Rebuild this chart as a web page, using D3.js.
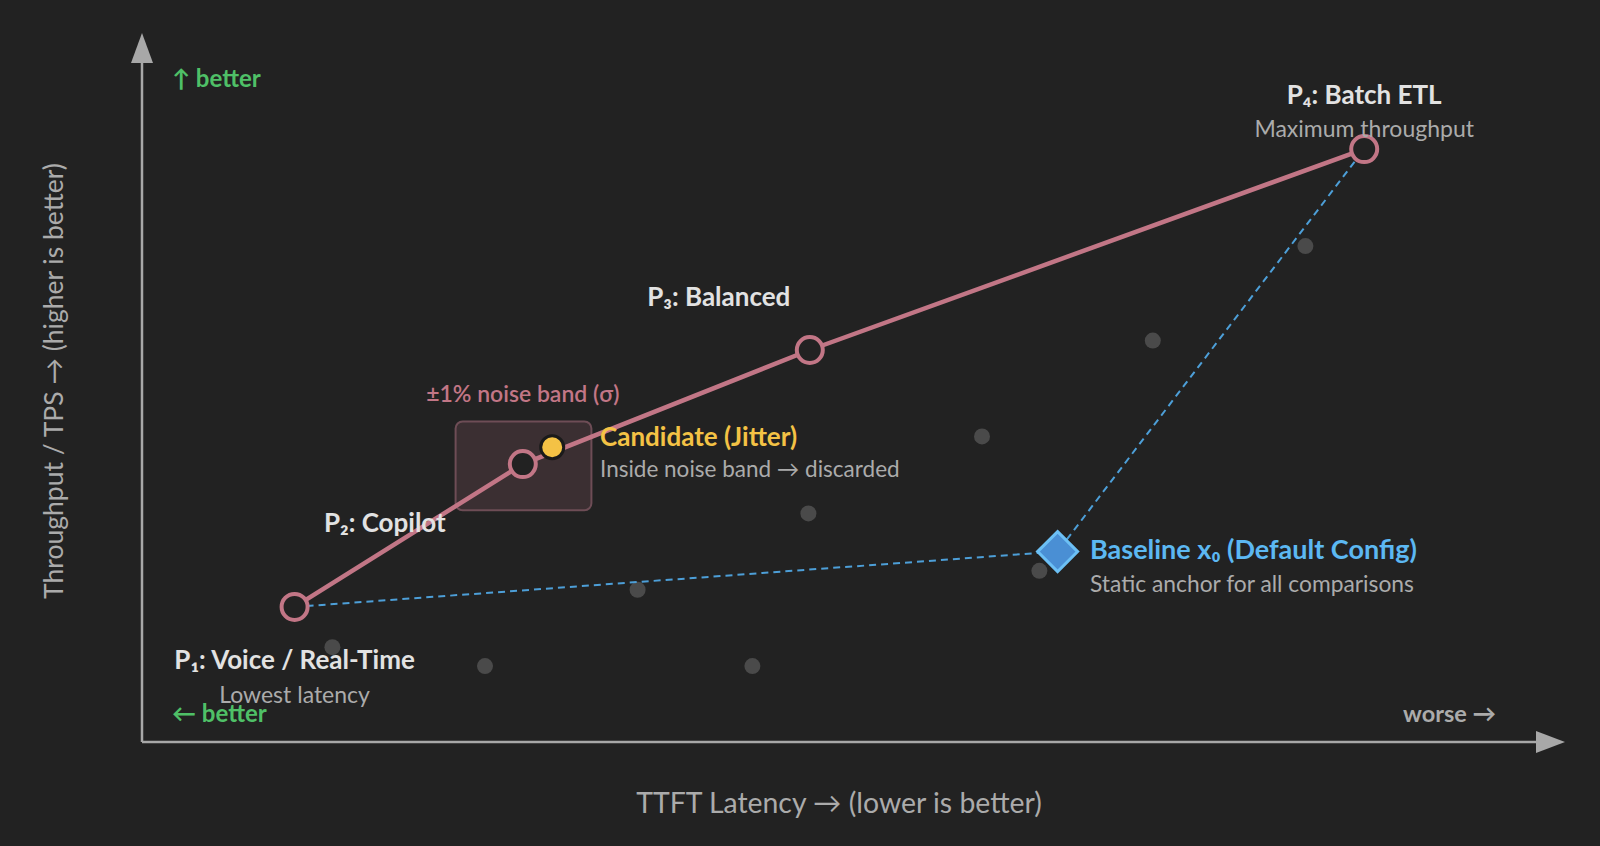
<!DOCTYPE html>
<html>
<head>
<meta charset="utf-8">
<script src="https://cdn.jsdelivr.net/npm/d3@7"></script>
<style>
  html, body { margin: 0; padding: 0; background: #222222; }
  svg { display: block; font-family: Lato, "Noto Sans", sans-serif; }
</style>
</head>
<body>
<svg id="chart" width="1600" height="846"></svg>
<script>
// ---- data (latency units vs throughput units, arbitrary 0-100 scale) ----
const paretoNames = ["P₁: Voice / Real-Time", "P₂: Copilot", "P₃: Balanced", "P₄: Batch ETL"];
const paretoSubs  = ["Lowest latency", "", "", "Maximum throughput"];
const paretoX = [10.9, 27.2, 47.7, 87.3];
const paretoY = [19.3, 39.7, 56.0, 84.7];

const candidateX = 29.3;
const candidateY = 42.1;
const candidateLabel = "Candidate (Jitter)";
const candidateSub = "Inside noise band → discarded";

const baselineX = 65.4;
const baselineY = 27.2;
const baselineLabel = "Baseline x₀ (Default Config)";
const baselineSub = "Static anchor for all comparisons";

const noiseBandX = [22.4, 32.1];
const noiseBandY = [33.1, 45.8];
const noiseLabel = "±1% noise band (σ)";

const cloudX = [13.6, 24.5, 35.4, 43.6, 47.6, 60.0, 64.1, 72.2, 83.1];
const cloudY = [13.55, 10.85, 21.75, 10.85, 32.65, 43.65, 24.45, 57.35, 70.85];

const xTitle = "TTFT Latency → (lower is better)";
const yTitle = "Throughput / TPS → (higher is better)";
const upBetter = "↑ better";
const leftBetter = "← better";
const worseLabel = "worse →";

// ---- layout ----
const svg = d3.select("#chart");
const W = 1600, H = 846;
const ox = 142, oy = 742;
const x = d3.scaleLinear().domain([0, 100]).range([ox, ox + 1400]);
const y = d3.scaleLinear().domain([0, 100]).range([oy, oy - 700]);

const C = {
  bg: "#222222", axis: "#a8a8a8", pink: "#c27686", blue: "#4d9fd8",
  blueText: "#5cb8f2", yellow: "#f4c245", green: "#4fc067", grey: "#4a4a4a",
  label: "#e2e2e2", sub: "#ababab"
};

svg.append("rect").attr("width", W).attr("height", H).attr("fill", C.bg);

// axes
const g = svg.append("g");
g.append("line").attr("x1", ox).attr("y1", oy).attr("x2", 1540).attr("y2", oy)
  .attr("stroke", C.axis).attr("stroke-width", 2.5);
g.append("line").attr("x1", ox).attr("y1", oy).attr("x2", ox).attr("y2", 60)
  .attr("stroke", C.axis).attr("stroke-width", 2.5);
g.append("path").attr("d", `M${1565},${oy} L${1536},${oy - 11} L${1536},${oy + 11} Z`).attr("fill", C.axis);
g.append("path").attr("d", `M${ox},33 L${ox - 11},63 L${ox + 11},63 Z`).attr("fill", C.axis);

// axis titles
svg.append("text").attr("x", 839).attr("y", 813).attr("text-anchor", "middle")
  .attr("fill", C.sub).attr("font-size", 28.4).text(xTitle);
svg.append("text").attr("transform", `translate(63,381) rotate(-90)`).attr("text-anchor", "middle")
  .attr("fill", C.sub).attr("font-size", 26.5).text(yTitle);

// corner hints
svg.append("text").attr("x", 172).attr("y", 87).attr("fill", C.green)
  .attr("font-size", 24).attr("font-weight", 700).text(upBetter);
svg.append("text").attr("x", 172).attr("y", 722).attr("fill", C.green)
  .attr("font-size", 24).attr("font-weight", 700).text(leftBetter);
svg.append("text").attr("x", 1496).attr("y", 722).attr("text-anchor", "end").attr("fill", C.sub)
  .attr("font-size", 23.5).attr("font-weight", 700).text(worseLabel);

// background cloud
svg.append("g").selectAll("circle").data(cloudX).join("circle")
  .attr("cx", d => x(d)).attr("cy", (d, i) => y(cloudY[i])).attr("r", 8).attr("fill", C.grey);

// noise band
svg.append("rect")
  .attr("x", x(noiseBandX[0])).attr("y", y(noiseBandY[1]))
  .attr("width", x(noiseBandX[1]) - x(noiseBandX[0])).attr("height", y(noiseBandY[0]) - y(noiseBandY[1]))
  .attr("rx", 7).attr("fill", "#3b2f32").attr("stroke", "#6e4d56").attr("stroke-width", 2);
svg.append("text").attr("x", x(paretoX[1])).attr("y", 402).attr("text-anchor", "middle")
  .attr("fill", C.pink).attr("font-size", 23).attr("font-weight", 600).text(noiseLabel);

// baseline dashed connectors
const dash = d3.line();
svg.append("path").attr("d", dash([[x(paretoX[0]), y(paretoY[0])], [x(baselineX), y(baselineY)], [x(paretoX[3]), y(paretoY[3])]]))
  .attr("fill", "none").attr("stroke", C.blue).attr("stroke-width", 2).attr("stroke-dasharray", "7,5");

// pareto frontier
const line = d3.line().x(d => x(d[0])).y(d => y(d[1]));
svg.append("path").attr("d", line(paretoX.map((v, i) => [v, paretoY[i]])))
  .attr("fill", "none").attr("stroke", C.pink).attr("stroke-width", 4.5);
svg.append("g").selectAll("circle").data(paretoX).join("circle")
  .attr("cx", d => x(d)).attr("cy", (d, i) => y(paretoY[i])).attr("r", 13)
  .attr("fill", C.bg).attr("stroke", C.pink).attr("stroke-width", 4);

// candidate
svg.append("circle").attr("cx", x(candidateX)).attr("cy", y(candidateY)).attr("r", 11.5)
  .attr("fill", C.yellow).attr("stroke", "#1a1a1a").attr("stroke-width", 3);
svg.append("text").attr("x", 600).attr("y", 446).attr("fill", C.yellow)
  .attr("font-size", 26).attr("font-weight", 700).text(candidateLabel);
svg.append("text").attr("x", 600).attr("y", 477).attr("fill", C.sub)
  .attr("font-size", 22.5).text(candidateSub);

// baseline diamond
const bx = x(baselineX), by = y(baselineY), d0 = 20;
svg.append("path").attr("d", `M${bx},${by - d0} L${bx + d0},${by} L${bx},${by + d0} L${bx - d0},${by} Z`)
  .attr("fill", "#4a8fd4").attr("stroke", "#6cc0f5").attr("stroke-width", 3);
svg.append("text").attr("x", 1090).attr("y", 559).attr("fill", C.blueText)
  .attr("font-size", 27).attr("font-weight", 700).text(baselineLabel);
svg.append("text").attr("x", 1090).attr("y", 592).attr("fill", C.sub)
  .attr("font-size", 22.8).text(baselineSub);

// pareto labels
const labelPos = [
  {dx: 0, dy: 62, subDy: 96},
  {dx: -138, dy: 68},
  {dx: -91, dy: -44},
  {dx: 0, dy: -45, subDy: -12}
];
paretoNames.forEach((name, i) => {
  const p = labelPos[i];
  const px = x(paretoX[i]), py = y(paretoY[i]);
  svg.append("text").attr("x", px + p.dx).attr("y", py + p.dy).attr("text-anchor", "middle")
    .attr("fill", C.label).attr("font-size", 26).attr("font-weight", 700).text(name);
  if (paretoSubs[i]) {
    svg.append("text").attr("x", px + p.dx).attr("y", py + p.subDy).attr("text-anchor", "middle")
      .attr("fill", C.sub).attr("font-size", 23).text(paretoSubs[i]);
  }
});
</script>
</body>
</html>
